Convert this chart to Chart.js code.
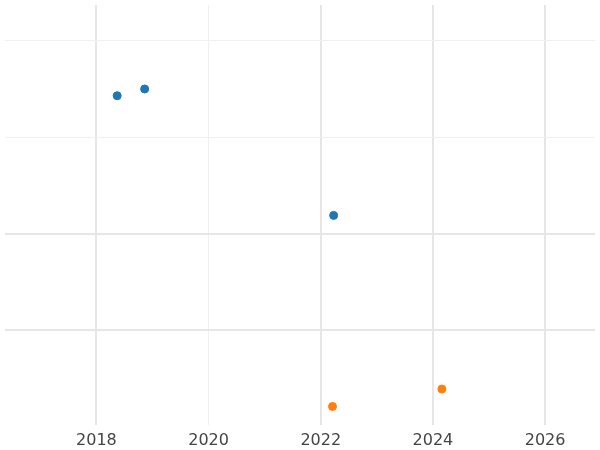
<!DOCTYPE html>
<html>
<head>
<meta charset="utf-8">
<script src="https://cdn.jsdelivr.net/npm/chart.js@4"></script>
<style>
  html, body { margin: 0; padding: 0; background: #fff; }
  #wrap { width: 600px; height: 450px; }
</style>
</head>
<body>
<div id="wrap"><canvas id="chart"></canvas></div>
<script>
const blueX = [2018.37, 2018.86, 2022.23];
const blueY = [3.43, 3.50, 2.19];
const orangeX = [2022.21, 2024.16];
const orangeY = [0.21, 0.39];
const xTicks = [2018, 2020, 2022, 2024, 2026];

const pts = (xs, ys) => xs.map((x, i) => ({ x: x, y: ys[i] }));

new Chart(document.getElementById("chart"), {
  type: "scatter",
  data: {
    datasets: [
      { data: pts(blueX, blueY), backgroundColor: "#1f77b4", borderColor: "#1f77b4", pointRadius: 4 },
      { data: pts(orangeX, orangeY), backgroundColor: "#ff7f0e", borderColor: "#ff7f0e", pointRadius: 4 }
    ]
  },
  options: {
    responsive: true,
    maintainAspectRatio: false,
    animation: false,
    layout: { padding: { left: -5, right: -5, top: -5, bottom: -6 } },
    plugins: { legend: { display: false }, tooltip: { enabled: false } },
    scales: {
      x: {
        type: "linear",
        min: 2016.37,
        max: 2026.89,
        afterBuildTicks: (axis) => { axis.ticks = xTicks.map(v => ({ value: v })); },
        ticks: { color: "#444", font: { family: "DejaVu Sans", size: 16 }, padding: 6, callback: v => String(v) },
        grid: {
          color: (c) => c.tick && c.tick.value === 2020 ? "#f0f0f0" : "#e6e6e6",
          lineWidth: (c) => c.tick && c.tick.value === 2020 ? 1 : 2,
          drawTicks: false
        },
        border: { display: false }
      },
      y: {
        min: 0.02,
        max: 4.37,
        afterFit: (axis) => { axis.width = 0; },
        afterBuildTicks: (axis) => { axis.ticks = [1, 2, 3, 4].map(v => ({ value: v })); },
        ticks: { display: false },
        grid: {
          color: (c) => c.tick && c.tick.value >= 3 ? "#f0f0f0" : "#e6e6e6",
          lineWidth: (c) => c.tick && c.tick.value >= 3 ? 1 : 2,
          drawTicks: false
        },
        border: { display: false }
      }
    }
  }
});
</script>
</body>
</html>
